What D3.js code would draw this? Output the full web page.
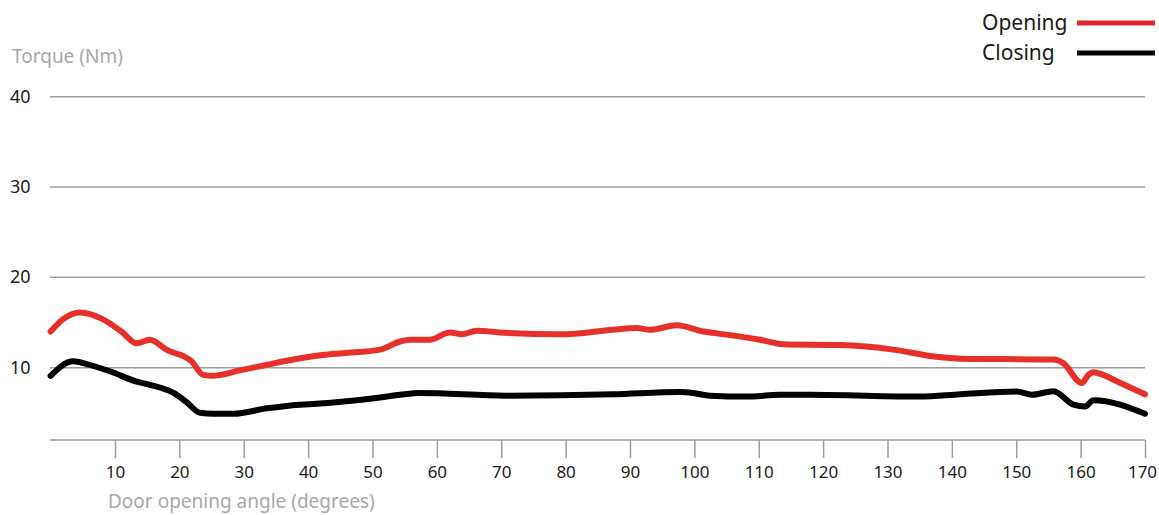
<!DOCTYPE html>
<html>
<head>
<meta charset="utf-8">
<script src="https://cdn.jsdelivr.net/npm/d3@7"></script>
<style>
  body { margin: 0; background: #fff; }
  svg text { font-family: "Noto Sans", sans-serif; }
</style>
</head>
<body>
<div id="chart"></div>
<script>
// Opening torque (red)
var openingAngle = [0, 2, 4.6, 8, 11, 13.4, 15.4, 18, 21.9, 23.7, 25.2, 29.4, 33.5, 37.7, 42.3, 45.4, 51.2, 54.3, 55.8, 58.9, 62, 63.9, 66.2, 69.8, 79.1, 87.4, 91, 93.1, 97.3, 101.4, 103.5, 110.2, 113.8, 122.6, 130.9, 137.6, 141.3, 155.8, 157.3, 160.2, 161.2, 162, 163.5, 165.6, 170];
var openingTorque = [14.0, 15.4, 16.1, 15.4, 14.0, 12.7, 13.1, 12.0, 10.7, 9.2, 9.1, 9.7, 10.3, 10.9, 11.4, 11.6, 12.0, 12.9, 13.1, 13.1, 13.9, 13.7, 14.1, 13.9, 13.7, 14.2, 14.4, 14.2, 14.7, 14.0, 13.8, 13.1, 12.6, 12.5, 12.0, 11.2, 11.0, 10.9, 10.5, 8.3, 9.2, 9.5, 9.2, 8.5, 7.05];

// Closing torque (black)
var closingAngle = [0, 3.5, 5.6, 9.2, 13.4, 15.4, 19.1, 21.1, 23.2, 25.3, 28.4, 33.6, 38.7, 41.3, 51.2, 54.3, 57.4, 70.8, 87.4, 97.8, 99.8, 102.4, 108.1, 113.3, 118, 135.1, 141.3, 150.1, 152.4, 155.8, 158.9, 160.7, 162, 170];
var closingTorque = [9.1, 10.7, 10.4, 9.6, 8.45, 8.1, 7.2, 6.2, 5.0, 4.9, 4.9, 5.5, 5.9, 6.0, 6.7, 7.0, 7.2, 6.9, 7.05, 7.3, 7.2, 6.9, 6.8, 7.0, 7.0, 6.8, 7.05, 7.35, 7.0, 7.4, 5.9, 5.7, 6.4, 4.9];

var xTicks = [10, 20, 30, 40, 50, 60, 70, 80, 90, 100, 110, 120, 130, 140, 150, 160, 170];
var yTicks = [10, 20, 30, 40];

var legendNames = ["Opening", "Closing"];
var seriesColors = ["#e8302a", "#000000"];

var svgWidth = 1159;
var svgHeight = 515;

var svg = d3.select("#chart")
  .append("svg")
  .attr("width", svgWidth)
  .attr("height", svgHeight);

var x = d3.scaleLinear().domain([0, 170]).range([50.6, 1145]);
var y = d3.scaleLinear().domain([0, 40]).range([458, 96.7]);

// horizontal gridlines
svg.append("g")
  .selectAll("line")
  .data(yTicks)
  .enter()
  .append("line")
  .attr("x1", 50)
  .attr("x2", 1145)
  .attr("y1", d => y(d))
  .attr("y2", d => y(d))
  .attr("stroke", "#9d9d9d")
  .attr("stroke-width", 1.5);

// y labels
svg.append("g")
  .selectAll("text")
  .data(yTicks)
  .enter()
  .append("text")
  .attr("x", 10)
  .attr("y", d => y(d) + 6)
  .attr("font-size", "18px")
  .attr("fill", "#1a1a1a")
  .text(d => d);

// x axis
var bottomAxis = d3.axisBottom(x)
  .tickValues(xTicks)
  .tickSize(18)
  .tickPadding(8)
  .tickSizeOuter(0);

var xAxis = svg.append("g")
  .attr("transform", `translate(0, ${y(2)})`)
  .call(bottomAxis);

xAxis.select(".domain")
  .attr("d", `M50,0H${x(170)}`)
  .attr("stroke", "#9d9d9d")
  .attr("stroke-width", 1.5);
xAxis.selectAll(".tick line")
  .attr("stroke", "#9d9d9d")
  .attr("stroke-width", 1.5);
xAxis.selectAll(".tick text")
  .attr("font-size", "17px")
  .attr("fill", "#1a1a1a")
  .style("font-family", "'Noto Sans', sans-serif");
// keep the last label inside the page
xAxis.selectAll(".tick text")
  .filter(d => d === 170)
  .attr("dx", -3);

// axis titles
svg.append("text")
  .attr("x", 12)
  .attr("y", 63)
  .attr("font-size", "19px")
  .attr("fill", "#a8a8a8")
  .text("Torque (Nm)");

svg.append("text")
  .attr("x", 108)
  .attr("y", 508)
  .attr("font-size", "19px")
  .attr("fill", "#a8a8a8")
  .text("Door opening angle (degrees)");

// lines
var line = d3.line()
  .x(d => x(d[0]))
  .y(d => y(d[1]))
  .curve(d3.curveMonotoneX);

var series = [
  d3.zip(openingAngle, openingTorque),
  d3.zip(closingAngle, closingTorque)
];

svg.append("g")
  .selectAll("path")
  .data(series)
  .enter()
  .append("path")
  .attr("d", line)
  .attr("fill", "none")
  .attr("stroke", (d, i) => seriesColors[i])
  .attr("stroke-width", 6)
  .attr("stroke-linecap", "round")
  .attr("stroke-linejoin", "round");

// legend
var legend = svg.append("g")
  .selectAll("g")
  .data(legendNames)
  .enter()
  .append("g")
  .attr("transform", (d, i) => `translate(0, ${23 + i * 30})`);

legend.append("text")
  .attr("x", 982)
  .attr("y", 7)
  .attr("font-size", "21px")
  .attr("fill", "#1a1a1a")
  .text(d => d);

legend.append("line")
  .attr("x1", 1077)
  .attr("x2", 1155)
  .attr("y1", 0)
  .attr("y2", 0)
  .attr("stroke", (d, i) => i === 0 ? "#e0262f" : "#000")
  .attr("stroke-width", 5);
</script>
</body>
</html>
